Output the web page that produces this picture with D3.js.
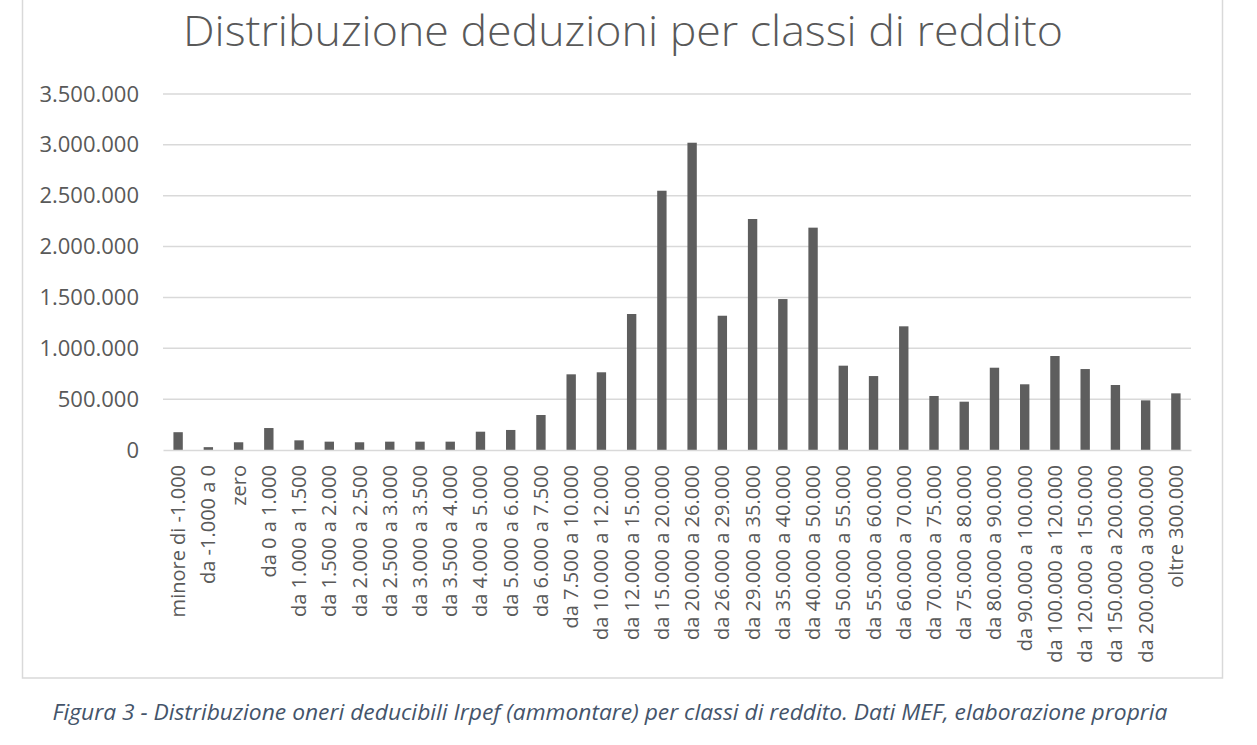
<!DOCTYPE html>
<html>
<head>
<meta charset="utf-8">
<script src="https://cdn.jsdelivr.net/npm/d3@7"></script>
<style>
  body { margin: 0; background: #fff; }
  svg { display: block; }
</style>
</head>
<body>
<svg width="1257" height="745"></svg>
<script>
const categories = [
  "minore di -1.000", "da -1.000 a 0", "zero", "da 0 a 1.000",
  "da 1.000 a 1.500", "da 1.500 a 2.000", "da 2.000 a 2.500", "da 2.500 a 3.000",
  "da 3.000 a 3.500", "da 3.500 a 4.000", "da 4.000 a 5.000", "da 5.000 a 6.000",
  "da 6.000 a 7.500", "da 7.500 a 10.000", "da 10.000 a 12.000", "da 12.000 a 15.000",
  "da 15.000 a 20.000", "da 20.000 a 26.000", "da 26.000 a 29.000", "da 29.000 a 35.000",
  "da 35.000 a 40.000", "da 40.000 a 50.000", "da 50.000 a 55.000", "da 55.000 a 60.000",
  "da 60.000 a 70.000", "da 70.000 a 75.000", "da 75.000 a 80.000", "da 80.000 a 90.000",
  "da 90.000 a 100.000", "da 100.000 a 120.000", "da 120.000 a 150.000", "da 150.000 a 200.000",
  "da 200.000 a 300.000", "oltre 300.000"
];

const deduzioni = [
  175000, 28000, 76000, 216000,
  95000, 82000, 76000, 82000,
  82000, 82000, 180000, 197000,
  344000, 744000, 764000, 1337000,
  2549000, 3021000, 1320000, 2271000,
  1484000, 2186000, 829000, 727000,
  1216000, 531000, 475000, 809000,
  646000, 924000, 796000, 639000,
  488000, 557000
];

const yTicks = [0, 500000, 1000000, 1500000, 2000000, 2500000, 3000000, 3500000];

const title = "Distribuzione deduzioni per classi di reddito";
const caption = "Figura 3 - Distribuzione oneri deducibili Irpef (ammontare) per classi di reddito. Dati MEF, elaborazione propria";

const svg = d3.select("svg");
const gray = "#595959";
const font = "'Open Sans', 'Noto Sans', sans-serif";

const it = d3.formatLocale({ decimal: ",", thousands: ".", grouping: [3], currency: ["€", ""] });
const fmt = it.format(",d");

const x = d3.scaleBand()
  .domain(categories)
  .range([163, 1191])
  .paddingInner(0.69)
  .paddingOuter(0.345);

const y = d3.scaleLinear()
  .domain([0, 3500000])
  .range([450, 94]);

// chart frame
svg.append("rect")
  .attr("x", 22.5).attr("y", -2)
  .attr("width", 1200).attr("height", 680)
  .attr("fill", "#fff")
  .attr("stroke", "#d9d9d9")
  .attr("stroke-width", 1.5);

// title
svg.append("text")
  .attr("x", 623).attr("y", 46)
  .attr("text-anchor", "middle")
  .attr("font-family", font)
  .attr("font-weight", 300)
  .attr("font-size", 43)
  .attr("fill", gray)
  .attr("textLength", 880)
  .attr("lengthAdjust", "spacingAndGlyphs")
  .text(title);

// gridlines
svg.append("g")
  .selectAll("line")
  .data(yTicks.slice(1))
  .join("line")
  .attr("x1", 163).attr("x2", 1191)
  .attr("y1", d => y(d)).attr("y2", d => y(d))
  .attr("stroke", "#d9d9d9")
  .attr("stroke-width", 1.5);

// y axis labels
const yAxis = svg.append("g")
  .attr("transform", "translate(163,0)")
  .call(d3.axisLeft(y).tickValues(yTicks).tickFormat(fmt).tickSize(0).tickPadding(24));
yAxis.select(".domain").remove();
yAxis.selectAll("text")
  .attr("font-family", font)
  .attr("font-size", 22)
  .attr("fill", gray);

// bars
svg.append("g")
  .selectAll("rect")
  .data(deduzioni)
  .join("rect")
  .attr("x", (d, i) => x(categories[i]))
  .attr("y", d => y(d))
  .attr("width", x.bandwidth())
  .attr("height", d => y(0) - y(d))
  .attr("fill", "#5e5e5e");

// x axis
const xAxis = svg.append("g")
  .attr("transform", "translate(0,450)")
  .call(d3.axisBottom(x).tickSize(0).tickPadding(0));
xAxis.select(".domain")
  .attr("stroke", "#d9d9d9")
  .attr("stroke-width", 1.5);
xAxis.selectAll("text")
  .attr("font-family", font)
  .attr("font-size", 20)
  .attr("fill", gray)
  .attr("text-anchor", "end")
  .attr("transform", "rotate(-90)")
  .attr("x", -15)
  .attr("y", 0)
  .attr("dy", "0.35em");

// caption
svg.append("text")
  .attr("x", 610).attr("y", 720)
  .attr("text-anchor", "middle")
  .attr("font-family", font)
  .attr("font-style", "italic")
  .attr("font-size", 21)
  .attr("fill", "#44546a")
  .attr("textLength", 1115)
  .attr("lengthAdjust", "spacingAndGlyphs")
  .text(caption);
</script>
</body>
</html>
